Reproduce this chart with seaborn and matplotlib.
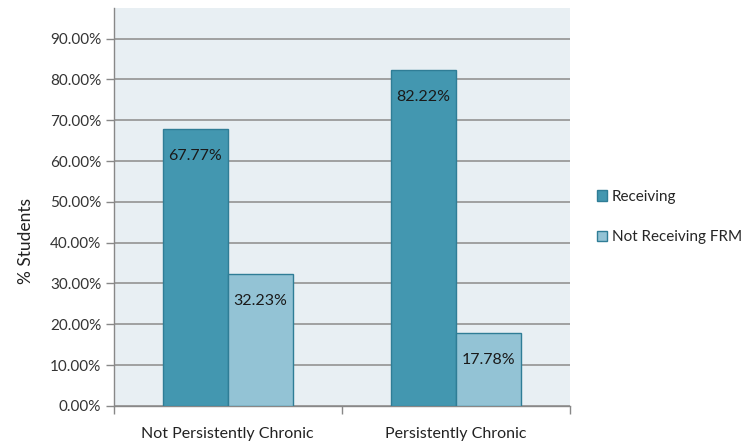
import matplotlib
matplotlib.use("Agg")
import matplotlib.pyplot as plt
import seaborn as sns
import pandas as pd
from matplotlib.ticker import PercentFormatter

categories = ["Not Persistently Chronic", "Persistently Chronic"]
groups = ["Receiving", "Not Receiving FRM"]
receiving = [0.6777, 0.8222]
not_receiving = [0.3223, 0.1778]

df = pd.DataFrame({
    "category": categories * 2,
    "group": [groups[0]] * 2 + [groups[1]] * 2,
    "value": receiving + not_receiving,
})

sns.set_style("white")
plt.rcParams["font.family"] = ["Lato", "DejaVu Sans"]

fig = plt.figure(figsize=(7.48, 4.47), dpi=100)
ax = fig.add_axes([0.152, 0.092, 0.610, 0.890])
ax.set_facecolor("#E8EFF3")

palette = ["#4397B0", "#93C3D5"]
sns.barplot(data=df, x="category", y="value", hue="group", palette=palette,
            width=0.57, edgecolor="#2F7D96", linewidth=1, saturation=1,
            ax=ax, zorder=3)

for cont in ax.containers:
    ax.bar_label(cont, labels=[f"{v * 100:.2f}%" for v in cont.datavalues],
                 padding=-24, fontsize=11.5, color="#1A1A1A")

ax.set_ylim(0, 0.975)
ax.set_xlim(-0.5, 1.5)
ax.set_yticks([i / 10 for i in range(10)])
ax.yaxis.set_major_formatter(PercentFormatter(1.0, decimals=2))
ax.grid(axis="y", color="#A0A0A0", linewidth=1.4, zorder=0)
ax.set_axisbelow(True)

ax.tick_params(axis="y", length=6, width=1, color="#888888", labelsize=11,
               labelcolor="#333333", pad=3, direction="out", left=True)
ax.set_xticks([0, 1])
ax.set_xticklabels(categories)
ax.tick_params(axis="x", length=0, labelsize=11.5, labelcolor="#222222", pad=15)
ax.set_xticks([-0.5, 0.5, 1.5], minor=True)
ax.tick_params(axis="x", which="minor", length=6, width=1, color="#888888",
               direction="out", bottom=True)

for s in ["top", "right"]:
    ax.spines[s].set_visible(False)
for s in ["left", "bottom"]:
    ax.spines[s].set_color("#888888")
    ax.spines[s].set_linewidth(1)

ax.set_xlabel("")
ax.set_ylabel("% Students", fontsize=12.5, color="#222222")
ax.yaxis.set_label_coords(-0.175, 0.415)

ax.legend(loc="center left", bbox_to_anchor=(1.045, 0.475), frameon=False,
          fontsize=11, handlelength=0.7, handleheight=0.7, handletextpad=0.3,
          labelspacing=1.75, borderaxespad=0)

fig.savefig("out.png", dpi=100)
